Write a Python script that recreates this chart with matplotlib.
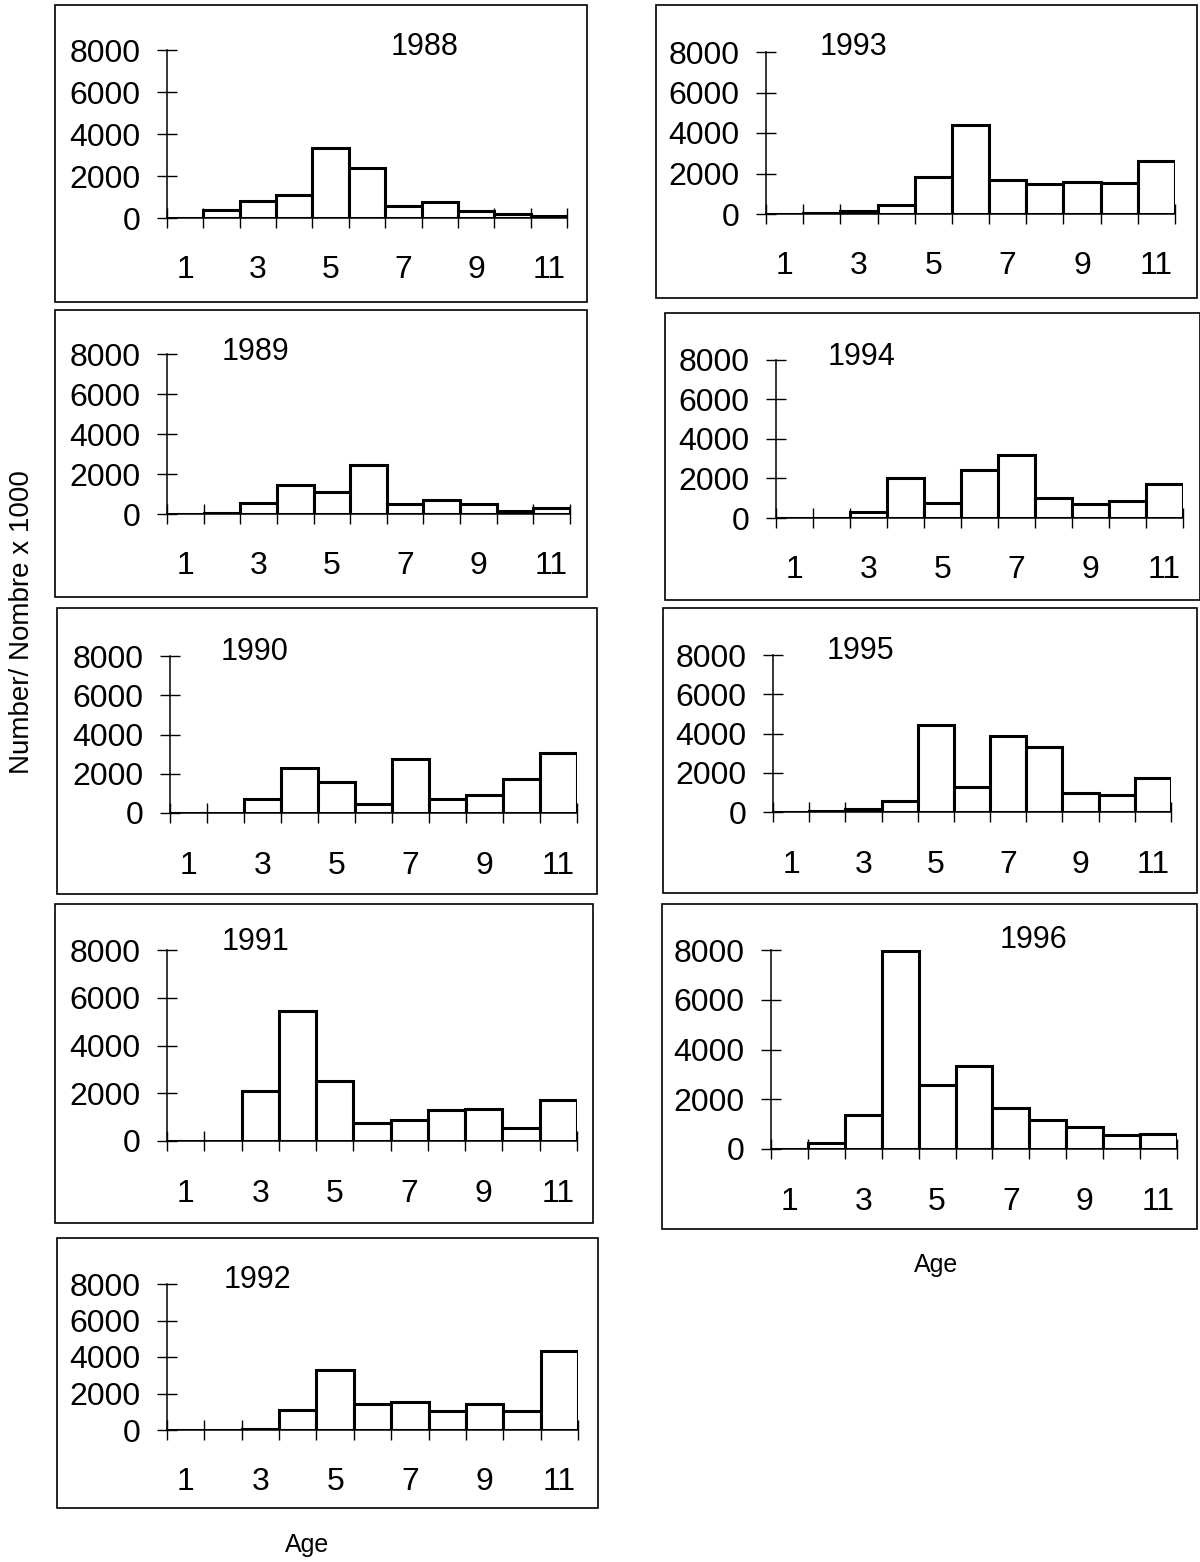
import numpy as np
import matplotlib
matplotlib.use('Agg')
import matplotlib.pyplot as plt
from matplotlib.patches import Rectangle

plt.rcParams['font.family'] = ['Liberation Sans', 'DejaVu Sans']

ages = np.arange(1, 12)
age_labels = ['1', '3', '5', '7', '9', '11']
y_ticks = [0, 2000, 4000, 6000, 8000]

n1988 = [0, 400, 800, 1100, 3350, 2400, 550, 750, 350, 180, 80]
n1989 = [0, 50, 560, 1460, 1120, 2470, 480, 700, 480, 170, 290]
n1990 = [0, 10, 720, 2300, 1580, 450, 2760, 690, 920, 1750, 3080]
n1991 = [0, 0, 2080, 5430, 2530, 740, 860, 1280, 1320, 540, 1700]
n1992 = [0, 10, 40, 1120, 3270, 1450, 1530, 1020, 1450, 1020, 4330]
n1993 = [0, 60, 130, 450, 1820, 4400, 1700, 1480, 1590, 1525, 2600]
n1994 = [0, 20, 300, 2000, 750, 2450, 3200, 1030, 720, 850, 1740]
n1995 = [0, 50, 170, 580, 4440, 1250, 3850, 3290, 960, 870, 1730]
n1996 = [0, 250, 1350, 7970, 2570, 3320, 1650, 1180, 880, 580, 600]

W, H = 1200, 1562

# layout in pixels: year, data, box (x0, y0, x1, y1), axis (x_left, y_zero, y_top, x_right), label pos
panels = [
    ('1988', n1988, (55, 5, 587, 302), (167, 218, 50, 567), (425, 47)),
    ('1989', n1989, (55, 310, 587, 597), (167, 514, 354, 570), (255, 352)),
    ('1990', n1990, (57, 608, 597, 894), (170, 813, 656, 577), (255, 652)),
    ('1991', n1991, (55, 904, 593, 1223), (167, 1141, 950, 577), (255, 942)),
    ('1992', n1992, (57, 1238, 598, 1508), (167, 1430, 1284, 578), (257, 1280)),
    ('1993', n1993, (656, 5, 1197, 298), (766, 214, 52, 1175), (853, 47)),
    ('1994', n1994, (665, 313, 1200, 600), (776, 518, 360, 1183), (862, 357)),
    ('1995', n1995, (663, 608, 1197, 893), (773, 812, 655, 1171), (860, 651)),
    ('1996', n1996, (662, 904, 1197, 1229), (771, 1149, 950, 1177), (1033, 940)),
]

fig = plt.figure(figsize=(W / 100, H / 100), dpi=100)

for year, vals, box, axpos, lab in panels:
    bx0, by0, bx1, by1 = box
    fig.add_artist(Rectangle((bx0 / W, 1 - by1 / H), (bx1 - bx0) / W, (by1 - by0) / H,
                             transform=fig.transFigure, fill=False, lw=1.2, ec='black'))

    xl, y0, yt, xr = axpos
    ax = fig.add_axes([xl / W, 1 - y0 / H, (xr - xl) / W, (y0 - yt) / H])
    ax.bar(ages, vals, width=1.0, color='white', edgecolor='black', linewidth=2.2, zorder=3)
    ax.set_xlim(0.5, 11.5)
    ax.set_ylim(0, 8000)
    ax.patch.set_visible(False)
    for s in ['top', 'right']:
        ax.spines[s].set_visible(False)
    for s in ['left', 'bottom']:
        ax.spines[s].set_linewidth(1.1)
        ax.spines[s].set_zorder(2)

    # category boundaries get the tick marks, odd ages get the labels
    ax.set_xticks(np.arange(0.5, 12, 1.0))
    ax.set_xticklabels([])
    ax.set_xticks([int(a) for a in age_labels], labels=age_labels, minor=True)
    ax.tick_params(axis='x', which='major', direction='inout', length=14, width=1)
    ax.tick_params(axis='x', which='minor', length=0, pad=27, labelsize=23)

    ax.set_yticks(y_ticks)
    ax.set_yticklabels([str(t) for t in y_ticks])
    ax.tick_params(axis='y', direction='inout', length=14, width=1, pad=12, labelsize=23)

    fig.text(lab[0] / W, 1 - lab[1] / H, year, ha='center', va='center', fontsize=22)

fig.text(307 / W, 1 - 1545 / H, 'Age', ha='center', va='center', fontsize=18)
fig.text(936 / W, 1 - 1265 / H, 'Age', ha='center', va='center', fontsize=18)
fig.text(22 / W, 1 - 622 / H, 'Number/ Nombre x 1000', ha='center', va='center',
         rotation=90, fontsize=20)

fig.savefig('out.png', dpi=100)
